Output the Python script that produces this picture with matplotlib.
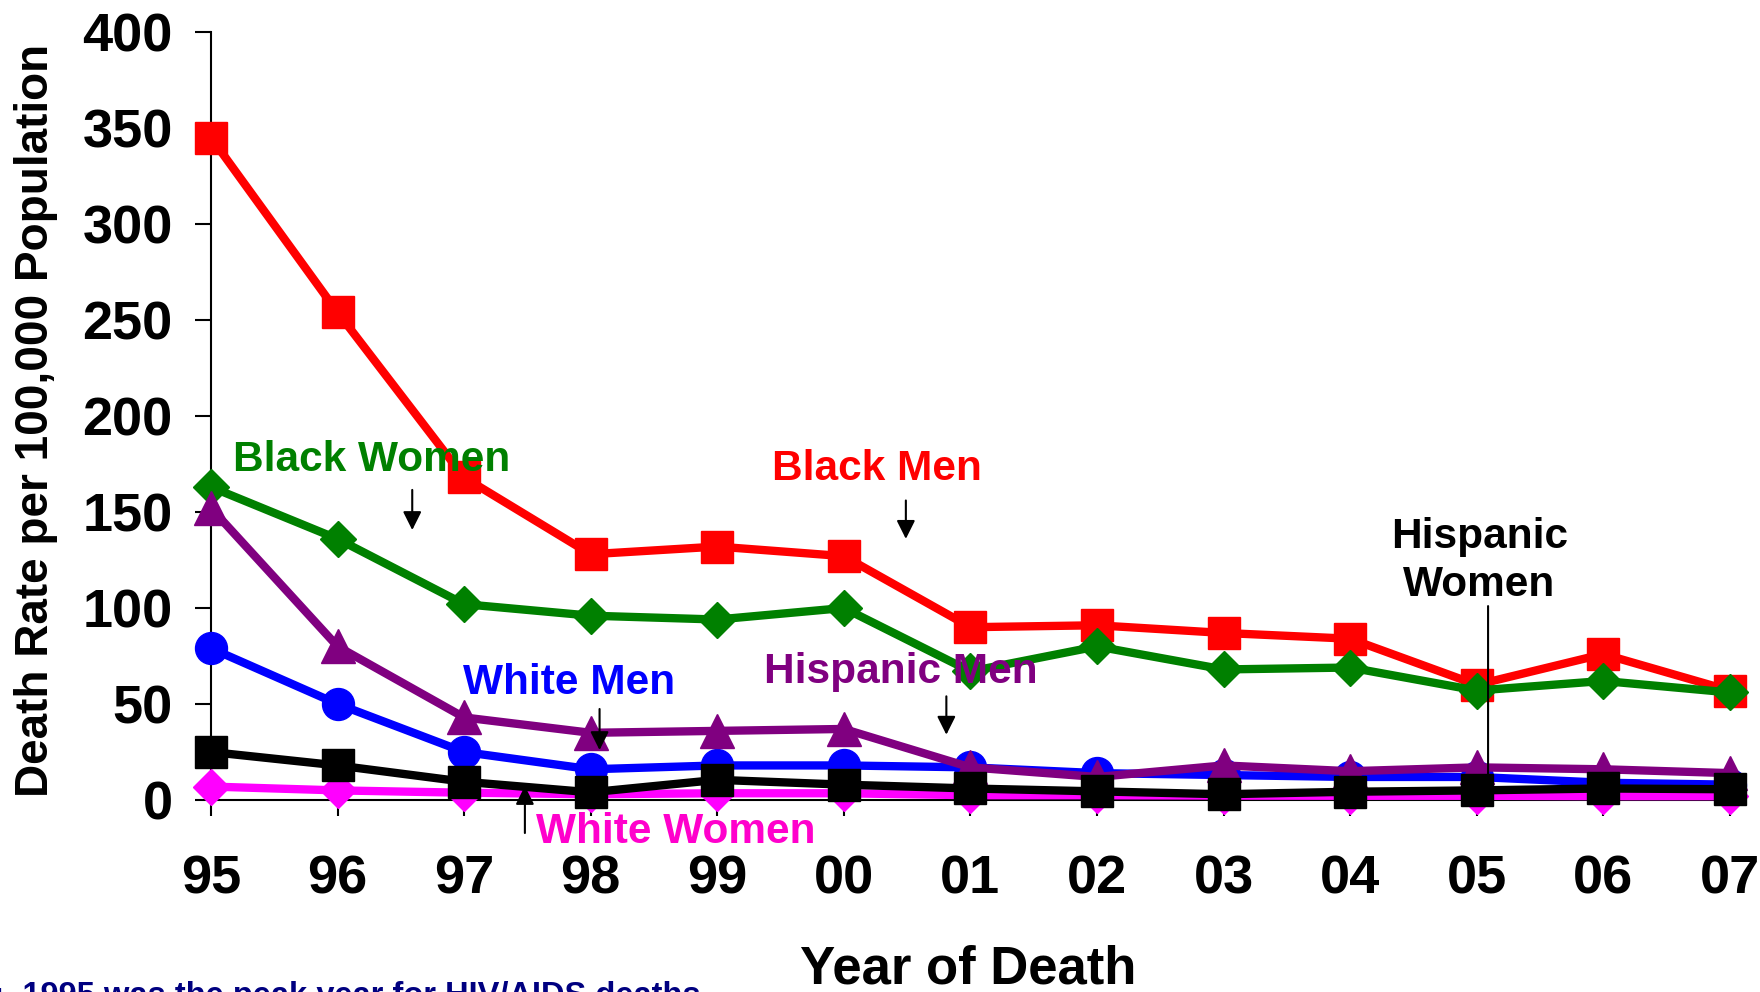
import matplotlib
matplotlib.use('Agg')
import matplotlib.pyplot as plt
import numpy as np

plt.rcParams['font.family'] = ['Liberation Sans', 'DejaVu Sans']
plt.rcParams['font.weight'] = 'bold'

# data (deaths per 100,000)
years = ['95', '96', '97', '98', '99', '00', '01', '02', '03', '04', '05', '06', '07']
black_men = [345, 254, 168, 128, 132, 127, 90, 91, 87, 84, 60, 76, 57]
black_women = [163, 136, 102, 96, 94, 100, 67, 80, 68, 69, 57, 62, 56]
hispanic_men = [152, 80, 43, 35, 36, 37, 17, 12, 18, 15, 17, 16, 14]
white_men = [79, 50, 25, 16, 18, 18, 17, 14, 13, 12, 12, 9, 8]
hispanic_women = [25, 18, 9.5, 4, 10.5, 8, 6, 4.5, 3, 4.3, 5, 6, 5.6]
white_women = [7, 5, 3.8, 3, 3.5, 3.5, 2.5, 2.5, 2.3, 2.2, 2.2, 2, 2]
y_ticks = [0, 50, 100, 150, 200, 250, 300, 350, 400]

x = np.arange(len(years))

fig = plt.figure(figsize=(17.6, 9.92), dpi=100)
ax = fig.add_axes([211 / 1760, 1 - 800 / 992, (1745 - 211) / 1760, (800 - 32) / 992])

lw = 6
ax.plot(x, white_women, color='#FF00FF', lw=lw, marker='D', ms=18, zorder=3, clip_on=False)
ax.plot(x, black_men, color='#FF0000', lw=lw, marker='s', ms=23, zorder=3, clip_on=False)
ax.plot(x, black_women, color='#008000', lw=lw, marker='D', ms=18, zorder=3, clip_on=False)
ax.plot(x, white_men, color='#0000FF', lw=lw, marker='o', ms=23, zorder=3, clip_on=False)
ax.plot(x, hispanic_men, color='#800080', lw=lw, marker='^', ms=24, zorder=3, clip_on=False)
ax.plot(x, hispanic_women, color='black', lw=lw, marker='s', ms=23, zorder=3, clip_on=False)

ax.set_xlim(0, 12.12)
ax.set_ylim(0, 400)
ax.set_xticks(x)
ax.set_xticklabels(years)
ax.set_yticks(y_ticks)
ax.tick_params(axis='x', labelsize=39, length=11.5, width=1.5, pad=28)
ax.tick_params(axis='y', labelsize=39, length=11.5, width=1.5, pad=16)
for lab in ax.get_xticklabels() + ax.get_yticklabels():
    lab.set_fontweight('bold')
for s in ['top', 'right']:
    ax.spines[s].set_visible(False)
for s in ['left', 'bottom']:
    ax.spines[s].set_linewidth(1.5)
    ax.spines[s].set_zorder(2)

# labels and arrows
fs = 30.5
ax.text(1.27, 177, 'Black Women', color='#008000', fontsize=fs, ha='center', va='center', zorder=5)
ax.text(5.26, 172.4, 'Black Men', color='#FF0000', fontsize=fs, ha='center', va='center', zorder=5)
ax.text(5.45, 66.7, 'Hispanic Men', color='#800080', fontsize=fs, ha='center', va='center', zorder=5)
ax.text(2.83, 60.7, 'White Men', color='#0000FF', fontsize=fs, ha='center', va='center', zorder=5)
ax.text(3.67, -16.7, 'White Women', color='#FF00CC', fontsize=fs, ha='center', va='center', zorder=5)
ax.text(10.02, 124.5, 'Hispanic\nWomen', color='black', fontsize=fs, ha='center', va='center',
        linespacing=1.25, zorder=5)

arrow = dict(arrowstyle='-|>', color='black', lw=1.5, mutation_scale=28, shrinkA=0, shrinkB=0)
ax.annotate('', xy=(1.59, 140.6), xytext=(1.59, 161.5), arrowprops=arrow, zorder=5)
ax.annotate('', xy=(5.49, 136), xytext=(5.49, 156), arrowprops=arrow, zorder=5)
ax.annotate('', xy=(5.81, 34), xytext=(5.81, 54), arrowprops=arrow, zorder=5)
ax.annotate('', xy=(3.07, 26), xytext=(3.07, 47.4), arrowprops=arrow, zorder=5)
ax.annotate('', xy=(2.48, 7.3), xytext=(2.48, -17.2), arrowprops=arrow, zorder=5,
            annotation_clip=False)
ax.annotate('', xy=(10.09, 1.5), xytext=(10.09, 101),
            arrowprops=dict(arrowstyle='-|>', color='black', lw=1.5, mutation_scale=18,
                            shrinkA=0, shrinkB=0), zorder=5)

fig.text(36 / 1760, 1 - 420 / 992, 'Death Rate per 100,000 Population', rotation=90,
         fontsize=33, ha='center', va='center')
fig.text(968 / 1760, 1 - 970 / 992, 'Year of Death', fontsize=38, ha='center', va='center')
fig.text(701 / 1760, -0.0127, 'Note:  1995 was the peak year for HIV/AIDS deaths',
         fontsize=23.5, color='#000080', ha='right', va='baseline')

fig.savefig('out.png', dpi=100)
